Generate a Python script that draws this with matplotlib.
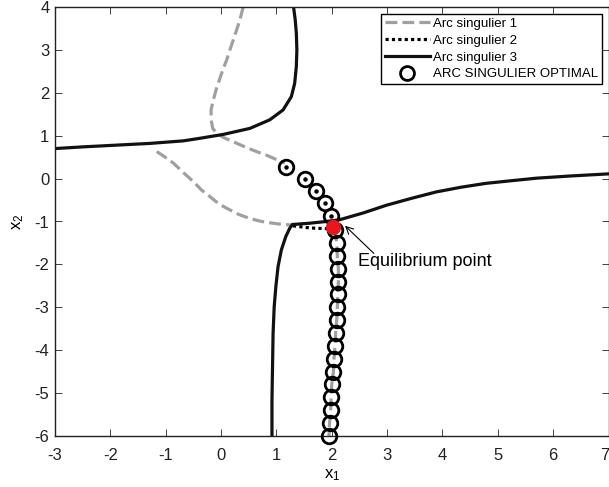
import matplotlib
matplotlib.use("Agg")
import matplotlib.pyplot as plt
from matplotlib.lines import Line2D
import matplotlib.transforms as mtransforms

plt.rcParams['font.family'] = ['Liberation Sans', 'DejaVu Sans']
plt.rcParams['mathtext.fontset'] = 'custom'
plt.rcParams['mathtext.rm'] = 'Liberation Sans'
plt.rcParams['mathtext.it'] = 'Liberation Sans:italic'
plt.rcParams['mathtext.default'] = 'regular'
plt.rcParams['axes.unicode_minus'] = False

# ---------------- data ----------------
# Arc singulier 1 (gray dashed), three pieces
arc1a_x = [0.40, 0.34, 0.28, 0.22, 0.16, 0.10, 0.03, -0.03, -0.09, -0.14, -0.18, -0.18,
           -0.15, -0.08, 0.04, 0.22, 0.43, 0.64, 0.85, 1.06, 1.15]
arc1a_y = [4.00, 3.70, 3.46, 3.23, 3.00, 2.76, 2.53, 2.30, 2.07, 1.83, 1.60, 1.37,
           1.17, 1.06, 0.96, 0.86, 0.74, 0.63, 0.53, 0.41, 0.36]
arc1b_x = [-1.16, -1.01, -0.86, -0.68, -0.50, -0.35, -0.20, -0.05, 0.10, 0.31, 0.52,
           0.70, 0.88, 1.06, 1.24, 1.29]
arc1b_y = [0.63, 0.50, 0.36, 0.14, -0.07, -0.27, -0.42, -0.58, -0.69, -0.83, -0.93,
           -0.99, -1.03, -1.06, -1.08, -1.08]
arc1c_x = [2.05, 2.09, 2.10, 2.12, 2.12, 2.11, 2.10, 2.09, 2.07, 2.06, 2.04, 2.03,
           2.00, 1.99, 1.98, 1.96, 1.95]
arc1c_y = [-1.19, -1.49, -1.80, -2.10, -2.40, -2.70, -3.00, -3.29, -3.60, -3.90, -4.20,
           -4.50, -4.79, -5.10, -5.40, -5.70, -6.00]

# Arc singulier 2 (black dotted)
arc2_x = [1.30, 1.60, 1.95]
arc2_y = [-1.10, -1.15, -1.17]

# Arc singulier 3 (black solid), two pieces
arc3a_x = [-3.00, -2.49, -1.89, -1.29, -0.68, -0.38, 0.04, 0.52, 0.88, 1.12, 1.27,
           1.33, 1.36, 1.37, 1.36, 1.34, 1.31]
arc3a_y = [0.70, 0.74, 0.78, 0.82, 0.88, 0.94, 1.03, 1.17, 1.37, 1.60, 1.91,
           2.22, 2.61, 3.00, 3.39, 3.70, 4.00]
arc3b_x = [0.92, 0.92, 0.93, 0.94, 0.96, 0.99, 1.03, 1.09, 1.17, 1.24, 1.29,
           1.60, 1.90, 2.14, 2.57, 2.99, 3.44, 3.89, 4.34, 4.79, 5.24, 5.70, 6.30, 7.00]
arc3b_y = [-6.00, -5.16, -4.39, -3.61, -2.99, -2.52, -2.05, -1.66, -1.35, -1.16, -1.07,
           -1.04, -1.00, -0.96, -0.80, -0.62, -0.46, -0.31, -0.20, -0.11, -0.05, 0.01, 0.06, 0.11]

# Arc singulier optimal (circles)
opt_x = [1.18, 1.51, 1.72, 1.87, 1.98, 2.05, 2.09, 2.10, 2.12, 2.12, 2.11, 2.10, 2.09,
         2.07, 2.06, 2.04, 2.03, 2.00, 1.99, 1.98, 1.96, 1.95]
opt_y = [0.28, -0.02, -0.28, -0.58, -0.87, -1.19, -1.49, -1.80, -2.10, -2.40, -2.70,
         -3.00, -3.29, -3.60, -3.90, -4.20, -4.50, -4.79, -5.10, -5.40, -5.70, -6.00]
# centre dots visible in the upper circles
dot_x = [1.18, 1.51, 1.72, 1.87, 1.98]
dot_y = [0.28, -0.02, -0.28, -0.58, -0.87]

# Equilibrium point
eq_x, eq_y = 2.02, -1.12

legend_labels = ['Arc singulier 1', 'Arc singulier 2', 'Arc singulier 3',
                 'ARC SINGULIER OPTIMAL']
xticks = [-3, -2, -1, 0, 1, 2, 3, 4, 5, 6, 7]
yticks = [-6, -5, -4, -3, -2, -1, 0, 1, 2, 3, 4]

# ---------------- figure ----------------
fig = plt.figure(figsize=(6.09, 4.87), dpi=100)
ax = fig.add_axes([55/609, 51/487, 553.5/609, 429/487])

gray = '#a0a0a0'
lw = 2.3
ax.plot(arc1a_x, arc1a_y, color=gray, lw=lw, ls='--')
ax.plot(arc1b_x, arc1b_y, color=gray, lw=lw, ls='--')
ax.plot(arc1c_x, arc1c_y, color=gray, lw=lw, ls='--')
ax.plot(arc2_x, arc2_y, color='black', lw=lw, ls=(0, (1, 1)))
ax.plot(arc3a_x, arc3a_y, color='#111111', lw=lw, solid_capstyle='butt')
ax.plot(arc3b_x, arc3b_y, color='#111111', lw=lw, solid_joinstyle='miter')
ax.plot(opt_x, opt_y, ls='none', marker='o', ms=10.5, mfc='none', mec='black',
        mew=2.0, clip_on=False, zorder=4)
ax.plot(dot_x, dot_y, ls='none', marker='o', ms=2.2, mfc='black', mec='black', zorder=4)
ax.plot([eq_x], [eq_y], ls='none', marker='o', ms=10, mfc='#e8161e', mec='#e8161e',
        zorder=5)

ax.annotate('Equilibrium point', xy=(2.24, -1.10), xytext=(2.47, -1.94),
            fontsize=13, va='center', ha='left',
            arrowprops=dict(arrowstyle='->', lw=0.8, color='black',
                            shrinkA=0, shrinkB=0,
                            patchA=None, relpos=(0.12, 1.0)))

ax.set_xlim(-3, 7)
ax.set_ylim(-6, 4)
ax.set_xticks(xticks)
ax.set_yticks(yticks)
ax.set_xticklabels([str(t) for t in xticks])
ax.set_yticklabels([str(t) for t in yticks])
ax.tick_params(direction='in', top=True, right=True, length=5, width=0.6,
               labelsize=12, colors='#222222')
ax.tick_params(axis='x', pad=9)
ax.tick_params(axis='y', pad=4)
for s in ax.spines.values():
    s.set_linewidth(1.0)
    s.set_color('#222222')

# keep the last x tick label inside the picture
lab7 = ax.get_xticklabels()[-1]
lab7.set_transform(lab7.get_transform() +
                   mtransforms.ScaledTranslation(-4/100, 0, fig.dpi_scale_trans))

ax.set_xlabel('x$_1$', fontsize=12, labelpad=3)
ax.set_ylabel('x$_2$', fontsize=12, labelpad=6)

handles = [
    Line2D([], [], color=gray, lw=lw, ls='--'),
    Line2D([], [], color='black', lw=lw, ls=(0, (1, 1))),
    Line2D([], [], color='#111111', lw=lw),
    Line2D([], [], ls='none', marker='o', ms=10, mfc='none', mec='black', mew=2.0),
]
leg = ax.legend(handles, legend_labels, loc='upper right', fontsize=9.5,
                frameon=True, fancybox=False, framealpha=1, edgecolor='black',
                handlelength=3.4, handletextpad=0.25, labelspacing=0.35,
                borderpad=0.3, borderaxespad=0.5)
leg.get_frame().set_linewidth(1.0)

fig.savefig('out.png', dpi=100)
